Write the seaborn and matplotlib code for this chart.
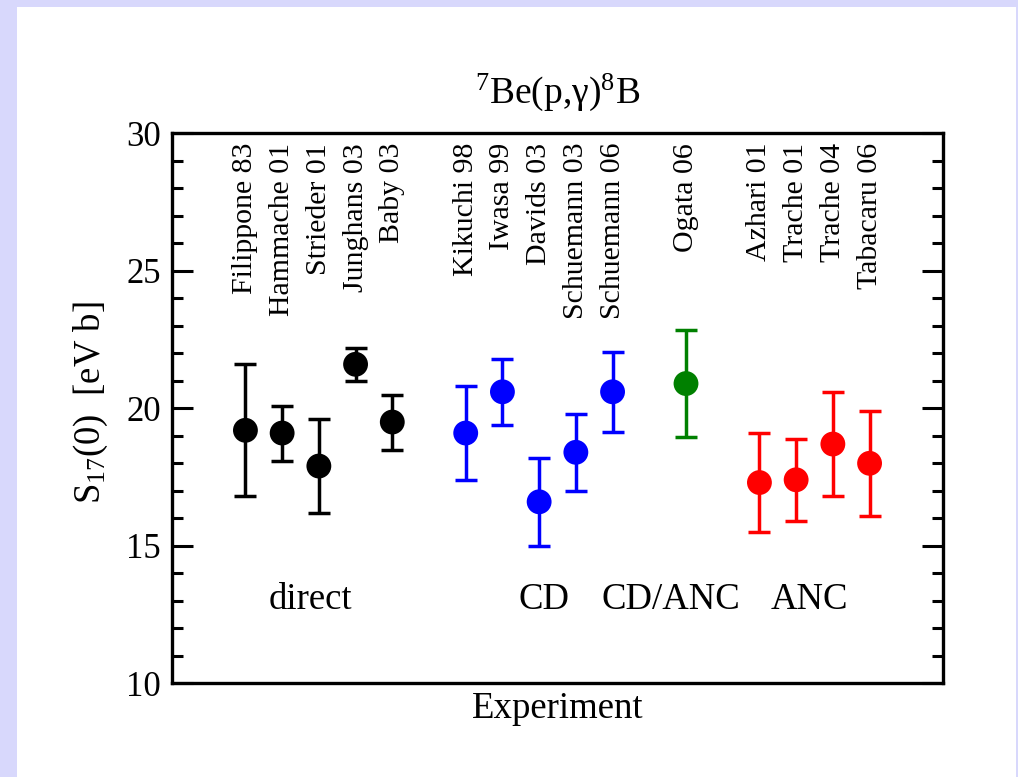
import matplotlib
matplotlib.use("Agg")
import matplotlib.pyplot as plt
from matplotlib.patches import Rectangle
from matplotlib.ticker import MultipleLocator
import seaborn as sns
import pandas as pd

# ---- data ----
experiments = ["Filippone 83", "Hammache 01", "Strieder 01", "Junghans 03", "Baby 03",
               "Kikuchi 98", "Iwasa 99", "Davids 03", "Schuemann 03", "Schuemann 06",
               "Ogata 06",
               "Azhari 01", "Trache 01", "Trache 04", "Tabacaru 06"]
groups = ["direct"] * 5 + ["CD"] * 5 + ["CD/ANC"] + ["ANC"] * 4
s17 = [19.2, 19.1, 17.9, 21.6, 19.5,
       19.1, 20.6, 16.6, 18.4, 20.6,
       20.9,
       17.3, 17.4, 18.7, 18.0]
s17_err = [2.4, 1.0, 1.7, 0.6, 1.0,
           1.7, 1.2, 1.6, 1.4, 1.45,
           1.95,
           1.8, 1.5, 1.9, 1.9]
group_order = ["direct", "CD", "CD/ANC", "ANC"]
group_colors = {"direct": "black", "CD": "#0000ff", "CD/ANC": "#008000", "ANC": "#ff0000"}

# positions: consecutive slots, one empty slot between groups
positions = [i + group_order.index(g) + 1 for i, g in enumerate(groups)]
df = pd.DataFrame({"experiment": experiments, "group": groups, "pos": positions,
                   "s17": s17, "err": s17_err})

# ---- style ----
sns.set_style("ticks")
plt.rcParams["font.family"] = ["Liberation Serif", "DejaVu Serif"]
plt.rcParams["mathtext.fontset"] = "custom"
plt.rcParams["mathtext.rm"] = "Liberation Serif"
plt.rcParams["mathtext.it"] = "Liberation Serif:italic"
plt.rcParams["mathtext.bf"] = "Liberation Serif:bold"
plt.rcParams["text.color"] = "black"
plt.rcParams["axes.labelcolor"] = "black"
plt.rcParams["ytick.color"] = "black"

W, H = 1018, 777
fig = plt.figure(figsize=(W / 100, H / 100), dpi=100, facecolor="#d8d8fc")
fig.patches.append(Rectangle((17 / W, 0), (1016 - 17) / W, (H - 7) / H,
                             transform=fig.transFigure, facecolor="white",
                             edgecolor="none", zorder=-10))
ax = fig.add_axes([172 / W, 1 - 683.3 / H, (943 - 172) / W, (683.3 - 133.3) / H])
ax.set_facecolor("white")

# error bars per group
for g in group_order:
    sub = df[df["group"] == g]
    ax.errorbar(sub["pos"], sub["s17"], yerr=sub["err"], fmt="none",
                ecolor=group_colors[g], elinewidth=2.5, capsize=8, capthick=2.5,
                zorder=2)

sns.scatterplot(data=df, x="pos", y="s17", hue="group", palette=group_colors,
                s=320, linewidth=0, legend=False, ax=ax, zorder=3)

ax.set_xlim(-1, 20)
ax.set_ylim(10, 30)
ax.set_xticks([])
ax.yaxis.set_major_locator(MultipleLocator(5))
ax.yaxis.set_minor_locator(MultipleLocator(1))
ax.tick_params(axis="y", which="major", direction="in", length=15, width=2.2,
               left=True, right=True, labelsize=25, pad=8, colors="black")
ax.tick_params(axis="y", which="minor", direction="in", length=8, width=2.2,
               left=True, right=True)
for sp in ax.spines.values():
    sp.set_visible(True)
    sp.set_linewidth(2.4)
    sp.set_color("black")

# experiment labels
for _, r in df.iterrows():
    ax.text(r["pos"], 29.65, r["experiment"], rotation=90, ha="center", va="top",
            fontsize=21.5, color="black")

# group labels
group_label_x = {"direct": 2.77, "CD": 9.12, "CD/ANC": 12.58, "ANC": 16.35}
for g in group_order:
    ax.text(group_label_x[g], 12.7, g, ha="center", va="baseline", fontsize=26.5)

ax.set_xlabel("Experiment", fontsize=26.5, labelpad=6)
ax.set_ylabel(r"S$_{17}$(0)  [eV b]", fontsize=26.5)
ax.yaxis.set_label_coords(-0.08, 0.51)

ax.text(0.5, 1 + 30 / 550, r"$^{7}$Be(p,γ)$^{8}$B", transform=ax.transAxes,
        ha="center", va="baseline", fontsize=27)

fig.savefig("out.png", dpi=100, facecolor=fig.get_facecolor())
